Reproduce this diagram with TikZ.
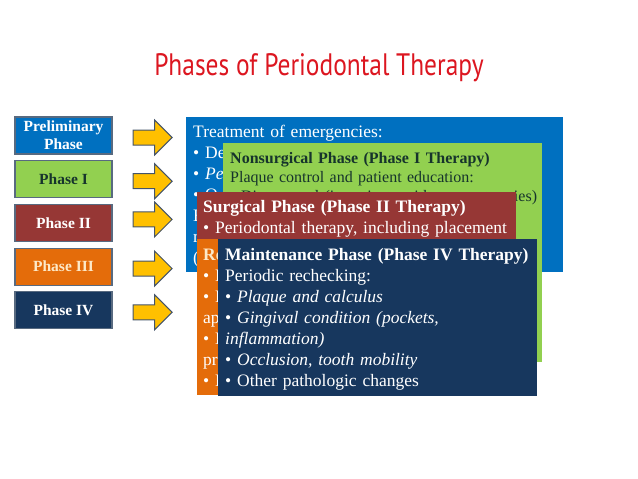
\documentclass[tikz,border=0pt]{standalone}
\usepackage{fontspec}
\setmainfont{Liberation Serif}
\newfontfamily\titlefont[FakeStretch=0.82]{PT Sans}
\usetikzlibrary{shapes, arrows, positioning}

\definecolor{titlered}{RGB}{220,22,32}
\definecolor{prelimblue}{RGB}{0,112,192}
\definecolor{phasegreen}{RGB}{146,208,80}
\definecolor{phasered}{RGB}{150,55,53}
\definecolor{phaseorange}{RGB}{228,108,10}
\definecolor{phasenavy}{RGB}{23,55,94}
\definecolor{arrowfill}{RGB}{255,192,0}
\definecolor{arrowline}{RGB}{68,84,106}
\definecolor{boxline}{RGB}{88,106,128}
\definecolor{darktext}{RGB}{22,52,44}
\definecolor{cream}{RGB}{253,233,200}

\begin{document}
\begin{tikzpicture}[
        x=1pt, y=-1pt,
        node distance=5.5pt and 20pt,
        phasebox/.style={rectangle, draw=boxline, line width=1.2pt, minimum width=97pt, minimum height=37pt, inner sep=1pt, align=center, font=\fontsize{15.5}{18}\selectfont\bfseries},
        phasearrow/.style={single arrow, draw=arrowline, fill=arrowfill, line width=1pt, minimum height=39pt, inner xsep=0pt, inner ysep=7pt, single arrow head extend=10pt, yshift=-2pt},
        panel/.style={rectangle, anchor=north west, inner sep=0pt},
        paneltext/.style={anchor=base west, inner sep=0pt, text width=345pt, align=left, font=\fontsize{17.5}{21}\selectfont}
    ]
    \useasboundingbox (0,0) rectangle (638,479);

    % Title
    \node [font=\titlefont\fontsize{31}{36}\selectfont, text=titlered, anchor=base] (title) at (319,75) {Phases of Periodontal Therapy};

    % Phase labels
    \node [phasebox, fill=prelimblue, text=white] (prelim) at (63.5,135.5) {Preliminary\\Phase};
    \node [phasebox, fill=phasegreen, text=darktext, below=of prelim] (phaseone) {Phase I};
    \node [phasebox, fill=phasered, text=white, below=of phaseone] (phasetwo) {Phase II};
    \node [phasebox, fill=phaseorange, text=cream, below=of phasetwo] (phasethree) {Phase III};
    \node [phasebox, fill=phasenavy, text=white, below=of phasethree] (phasefour) {Phase IV};

    % Arrows
    \node [phasearrow, right=of prelim] (arrowprelim) {};
    \node [phasearrow, right=of phaseone] (arrowone) {};
    \node [phasearrow, right=of phasetwo, yshift=5.5pt] (arrowtwo) {};
    \node [phasearrow, right=of phasethree] (arrowthree) {};
    \node [phasearrow, right=of phasefour] (arrowfour) {};

    % Preliminary phase (mostly covered)
    \node [panel, fill=prelimblue, minimum width=377pt, minimum height=155pt] (prelimpanel) at (186,117) {};
    \node [paneltext, text=white] (prelimtext) at ([shift={(7,20)}]prelimpanel.north west) {Treatment of emergencies:\\
        \textbullet{} De\\
        \textbullet{} \textit{Pe}\\
        \textbullet{} O\\
        E\\
        r\\
        (};

    % Phase I
    \node [panel, fill=phasegreen, minimum width=319pt, minimum height=219pt] (onepanel) at (223,143) {};
    \node [paneltext, text=darktext, font=\fontsize{16}{19}\selectfont] (onetext) at ([shift={(7,20)}]onepanel.north west) {\textbf{Nonsurgical Phase (Phase I Therapy)}\\
        Plaque control and patient education:\\
        \textbullet{} Diet control (in patients with rampant caries)};

    % Phase II
    \node [panel, fill=phasered, minimum width=319pt, minimum height=60pt] (twopanel) at (197,192) {};
    \node [paneltext, text=white] (twotext) at ([shift={(6,20)}]twopanel.north west) {\textbf{Surgical Phase (Phase II Therapy)}\\
        \textbullet{} Periodontal therapy, including placement};

    % Phase III (mostly covered)
    \node [panel, fill=phaseorange, minimum width=330pt, minimum height=156pt] (threepanel) at (197,239) {};
    \node [paneltext, text=white] (threetext) at ([shift={(6,21)}]threepanel.north west) {\textcolor{cream}{\textbf{Re}}\\
        \textbullet{} F\\
        \textbullet{} F\\
        ap\\
        \textbullet{} E\\
        pr\\
        \textbullet{} P};

    % Phase IV
    \node [panel, fill=phasenavy, minimum width=319pt, minimum height=157pt] (fourpanel) at (218,239) {};
    \node [paneltext, text=white] (fourtext) at ([shift={(7,21)}]fourpanel.north west) {\textbf{Maintenance Phase (Phase IV Therapy)}\\
        Periodic rechecking:\\
        \textbullet{} \textit{Plaque and calculus}\\
        \textbullet{} \textit{Gingival condition (pockets,}\\
        \textit{inflammation)}\\
        \textbullet{} \textit{Occlusion, tooth mobility}\\
        \textbullet{} Other pathologic changes};

\end{tikzpicture}
\end{document}
